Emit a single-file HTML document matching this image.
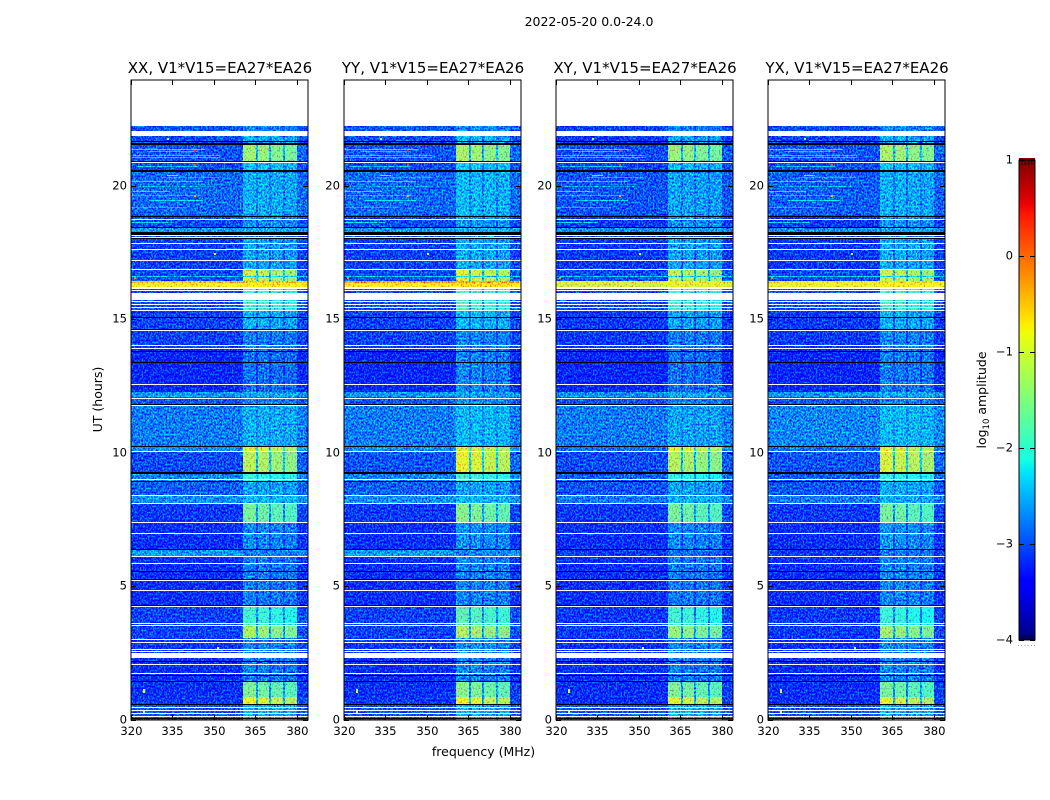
<!DOCTYPE html>
<html>
<head>
<meta charset="utf-8">
<title>2022-05-20 0.0-24.0</title>
<style>
html,body{margin:0;padding:0;background:#fff;width:1050px;height:800px;overflow:hidden}
svg text{font-family:"DejaVu Sans","Liberation Sans",sans-serif;fill:#000}
</style>
</head>
<body>
<svg id="chart" xmlns="http://www.w3.org/2000/svg" width="1050" height="800" viewBox="0 0 1050 800">
  <defs>
    <filter id="speckle" x="0" y="0" width="1" height="1" color-interpolation-filters="sRGB">
      <feTurbulence type="fractalNoise" baseFrequency="0.62 0.5" numOctaves="2" seed="7" result="n"/>
      <feColorMatrix in="n" type="matrix" values="0.3 0 0 0 0.35  0 2.0 0 0 -0.44  0 0 0.6 0 0.3  0 0 0 0 1" result="m"/>
      <feComposite in="SourceGraphic" in2="m" operator="arithmetic" k1="0" k2="1" k3="1" k4="-0.5"/>
    </filter>
  </defs>
  <text x="589" y="26" font-size="12.5" text-anchor="middle">2022-05-20 0.0-24.0</text>
  <text x="483.5" y="756" font-size="12.5" text-anchor="middle">frequency (MHz)</text>
  <text x="102" y="399.5" font-size="12.5" text-anchor="middle" transform="rotate(-90 102 399.5)">UT (hours)</text>
  <text x="986" y="400" font-size="12.5" text-anchor="middle" transform="rotate(-90 986 400)">log<tspan font-size="8.5" dy="3">10</tspan><tspan dy="-3"> amplitude</tspan></text>
  <g id="panels"></g>
  <g id="colorbar"></g>
</svg>
<script>
// ---------- categories ----------
const polarizations = ['XX', 'YY', 'XY', 'YX'];
const baselineLabel = ', V1*V15=EA27*EA26';
const xTickValues = [320, 335, 350, 365, 380];
const yTickValues = [0, 5, 10, 15, 20];
const colorbarTicks = [1, 0, -1, -2, -3, -4];

// Frequency blocks (MHz) and how strongly each follows the RFI band level
const freqEdges = [320, 360.6, 365.1, 365.8, 370, 370.6, 375.1, 375.8, 379.9, 384];
const blockWeight = [0, 1.04, 0.3, 1, 0.3, 0.94, 0.3, 0.9, 0.05];

// Time segments, hours (UT), one more edge than levels
const timeEdges = [0, 0.06, 0.58, 0.84, 1.41, 2.31, 3.05, 3.52, 4.22, 6.13, 6.39, 7.41, 8.12, 8.38, 8.94, 9.28, 10.07, 10.25, 11.79, 12.08, 12.28, 13.9, 14.64, 15.32, 16.22, 16.37, 16.44, 16.85, 18.05, 18.28, 18.43, 18.92, 20.53, 20.94, 21.54, 21.88, 22.25];

// log10 amplitude per time segment: background and RFI band
const xxBackground = [-3.1, -3.05, -3.2, -3.25, -3.25, -3.2, -3.15, -3.15, -3.25, -2.7, -3.25, -3.2, -2.75, -3.0, -2.8, -3.1, -2.75, -2.85, -3.05, -2.7, -3.3, -3.15, -3.15, -3.1, -0.8, -0.45, -3.1, -3.15, -3.1, -2.7, -3.1, -2.95, -3.1, -3.05, -3.1, -3.05];
const xxBand = [-1.8, -2.6, -0.95, -1.55, -2.85, -2.8, -1.3, -1.9, -2.85, -2.85, -2.8, -1.6, -2.55, -2.65, -1.9, -1.2, -1.0, -2.6, -2.8, -2.65, -2.9, -2.85, -2.6, -1.9, -0.7, -0.45, -1.1, -2.65, -2.8, -2.6, -2.75, -2.6, -2.5, -1.35, -2.6, -2.8];
const yyBackground = [-3.1, -3.05, -3.2, -3.25, -3.25, -3.2, -3.15, -3.15, -3.25, -2.7, -3.25, -3.2, -2.75, -3.0, -2.8, -3.05, -2.75, -2.85, -3.05, -2.7, -3.3, -3.15, -3.15, -3.1, -0.7, -0.25, -3.1, -3.15, -3.1, -2.7, -3.1, -2.95, -3.1, -3.05, -3.1, -3.05];
const yyBand = [-1.7, -2.6, -0.95, -1.5, -2.8, -2.75, -1.25, -1.75, -2.8, -2.8, -2.75, -1.5, -2.55, -2.65, -1.85, -0.95, -1.0, -2.55, -2.75, -2.65, -2.8, -2.8, -2.55, -1.8, -0.6, -0.3, -1.0, -2.6, -2.8, -2.6, -2.7, -2.55, -2.45, -1.3, -2.55, -2.8];
const xyBackground = [-3.1, -3.05, -3.25, -3.25, -3.25, -3.25, -3.2, -3.2, -3.25, -3.2, -3.25, -3.2, -2.85, -3.05, -3.0, -3.1, -2.9, -2.85, -3.05, -2.75, -3.3, -3.2, -3.2, -3.1, -1.0, -0.85, -3.1, -3.2, -3.2, -2.75, -3.2, -3.05, -3.15, -3.1, -3.2, -3.15];
const xyBand = [-1.8, -2.6, -1.0, -1.55, -2.85, -2.8, -1.4, -1.9, -2.85, -2.9, -2.8, -1.6, -2.6, -2.65, -1.95, -1.25, -1.0, -2.65, -2.8, -2.65, -2.9, -2.85, -2.65, -1.9, -0.9, -0.7, -1.15, -2.65, -2.8, -2.65, -2.75, -2.65, -2.55, -1.4, -2.65, -2.8];
const yxBackground = [-3.1, -3.05, -3.25, -3.25, -3.25, -3.25, -3.2, -3.2, -3.25, -3.2, -3.25, -3.2, -2.85, -3.05, -3.0, -3.05, -2.9, -2.8, -3.05, -2.7, -3.3, -3.2, -3.2, -3.1, -0.85, -0.75, -3.1, -3.2, -3.15, -2.75, -3.2, -3.0, -3.1, -3.05, -3.15, -3.1];
const yxBand = [-1.8, -2.6, -1.0, -1.6, -2.8, -2.8, -1.35, -1.95, -2.8, -2.85, -2.75, -1.6, -2.6, -2.6, -1.95, -1.05, -1.0, -2.55, -2.8, -2.6, -2.85, -2.8, -2.6, -1.85, -0.8, -0.6, -1.1, -2.6, -2.8, -2.65, -2.7, -2.6, -2.5, -1.3, -2.6, -2.8];

// Narrow-band streaks (hour, start MHz, stop MHz, log10 amplitude)
const streakHour = [21.39, 21.3, 21.15, 20.75, 20.2, 20.35, 19.82, 19.47, 19.2, 18.64, 16.63, 16.17, 20.42, 15.1, 21.1, 20.0, 19.65];
const streakFrom = [320, 326, 320, 322, 320, 331, 320, 327, 320, 320, 320, 320, 333, 325, 320, 323, 320];
const streakTo = [347, 344, 352, 344, 346, 352, 334, 346, 340, 335, 384, 384, 337, 345, 352, 350, 345];
const streakLevel = [-2.3, -2.5, -2.5, -2.4, -2.35, -2.6, -2.3, -2.25, -2.6, -2.3, -2.4, -0.85, -1.9, -2.4, -2.5, -2.6, -2.6];

// Isolated bright pixels (hour, MHz, log10 amplitude)
const spikeHour = [21.35, 20.82, 19.67, 1.15, 1.05, 0.3, 21.8, 17.5, 2.7, 16.6];
const spikeFreq = [342.8, 342.8, 342.8, 324.5, 324.5, 324.5, 333, 350, 351, 321];
const spikeLevel = [0.3, 0.1, -0.4, -1.0, -1.0, -0.9, -1.2, -1.1, -1.0, -0.2];

// Flagged rows: white gaps and black (zero-amplitude) rows, hours
const whiteLines = [20.90, 18.78, 18.15, 18.10, 17.86, 17.64, 17.22, 16.88, 15.70, 15.58, 15.48, 15.35, 14.59, 14.03, 13.94, 12.57, 12.04, 11.79, 10.07, 9.03, 8.42, 8.13, 7.39, 6.98, 6.13, 5.86, 5.23, 4.86, 4.26, 3.63, 3.53, 3.01, 2.91, 2.63, 2.56, 2.08, 1.73, 0.46, 0.36, 0.25, 0.13];
const whiteBandFrom = [21.88, 16.16, 16.07, 15.73, 2.31];
const whiteBandTo = [22.07, 16.22, 16.12, 16.01, 2.48];
const blackLines = [21.69, 21.60, 21.56, 20.94, 20.60, 20.55, 18.89, 18.46, 18.05, 15.09, 14.64, 13.81, 13.40, 11.83, 10.24, 8.95, 7.41, 6.40, 5.56, 5.27, 4.28, 2.19, 1.66, 1.43, 0.58, 0.07];
const blackBandFrom = [18.18, 9.22];
const blackBandTo = [18.28, 9.28];

const backgrounds = [xxBackground, yyBackground, xyBackground, yxBackground];
const bands = [xxBand, yyBand, xyBand, yxBand];

// ---------- axis functions ----------
const panelLeft = [131, 344, 556, 768];
const panelWidth = 177, panelTop = 80, panelHeight = 640;
const xScale = (p, f) => panelLeft[p] + (f - 320) * panelWidth / 64;
const yScale = h => 719.5 - h * 26.67;
const cbY = v => 640 - (v + 4) * 96;

function interp(v, xs, ys) {
  for (let i = 1; i < xs.length; i++) {
    if (v <= xs[i]) return ys[i - 1] + (ys[i] - ys[i - 1]) * (v - xs[i - 1]) / (xs[i] - xs[i - 1]);
  }
  return ys[ys.length - 1];
}
function jet(level) {
  const t = Math.max(0, Math.min(1, (level + 4) / 5));
  const r = interp(t, [0, 0.35, 0.66, 0.89, 1], [0, 0, 1, 1, 0.5]);
  const g = interp(t, [0, 0.125, 0.375, 0.64, 0.91, 1], [0, 0, 1, 1, 0, 0]);
  const b = interp(t, [0, 0.11, 0.34, 0.65, 1], [0.5, 1, 1, 0, 0]);
  return 'rgb(' + Math.round(r * 255) + ',' + Math.round(g * 255) + ',' + Math.round(b * 255) + ')';
}

const NS = 'http://www.w3.org/2000/svg';
function rect(parent, x, y, w, h, fill) {
  const r = document.createElementNS(NS, 'rect');
  r.setAttribute('x', x);
  r.setAttribute('y', y);
  r.setAttribute('width', w);
  r.setAttribute('height', h);
  r.setAttribute('fill', fill);
  r.setAttribute('shape-rendering', 'crispEdges');
  parent.appendChild(r);
  return r;
}
function line(parent, x1, y1, x2, y2) {
  const l = document.createElementNS(NS, 'line');
  l.setAttribute('x1', x1);
  l.setAttribute('y1', y1);
  l.setAttribute('x2', x2);
  l.setAttribute('y2', y2);
  l.setAttribute('stroke', '#000');
  l.setAttribute('stroke-width', '1');
  parent.appendChild(l);
  return l;
}
function label(parent, x, y, str, size, anchor) {
  const t = document.createElementNS(NS, 'text');
  t.setAttribute('x', x);
  t.setAttribute('y', y);
  t.setAttribute('font-size', size);
  t.setAttribute('text-anchor', anchor);
  t.textContent = str;
  parent.appendChild(t);
  return t;
}
function group(parent) {
  const g = document.createElementNS(NS, 'g');
  parent.appendChild(g);
  return g;
}

// ---------- panels ----------
const panelsRoot = document.getElementById('panels');
polarizations.forEach(function (pol, p) {
  const panel = group(panelsRoot);
  
  
  const left = panelLeft[p];

  const title = label(panel, left + panelWidth / 2 + 0.5, 73, pol + baselineLabel, 15, 'middle');
  
  

  const cells = group(panel);
  
  
  cells.setAttribute('filter', 'url(#speckle)');
  for (let s = 0; s < timeEdges.length - 1; s++) {
    const yTop = Math.round(yScale(timeEdges[s + 1]));
    const yBot = Math.round(yScale(timeEdges[s]));
    for (let b = 0; b < freqEdges.length - 1; b++) {
      const x0 = Math.round(xScale(p, freqEdges[b]));
      const x1 = Math.round(xScale(p, freqEdges[b + 1]));
      const level = backgrounds[p][s] + blockWeight[b] * (bands[p][s] - backgrounds[p][s]);
      const c = rect(cells, x0, yTop, x1 - x0, Math.max(1, yBot - yTop), jet(level));
      
      
    }
  }
  streakHour.forEach(function (h, i) {
    const st = rect(cells, xScale(p, streakFrom[i]), Math.round(yScale(h)), xScale(p, streakTo[i]) - xScale(p, streakFrom[i]), 1, jet(streakLevel[i]));
    
    
  });

  const flags = group(panel);
  
  
  spikeHour.forEach(function (h, i) {
    const sp = rect(flags, Math.round(xScale(p, spikeFreq[i])), Math.round(yScale(h)), 2, 2, jet(spikeLevel[i]));
    
    
  });
  blackBandFrom.forEach(function (h, i) {
    const k = rect(flags, left, Math.round(yScale(blackBandTo[i])), panelWidth, Math.round(yScale(h)) - Math.round(yScale(blackBandTo[i])), '#000');
    
    
  });
  blackLines.forEach(function (h) {
    const k = rect(flags, left, Math.round(yScale(h)), panelWidth, 1, '#000');
    
    
  });
  whiteBandFrom.forEach(function (h, i) {
    const w = rect(flags, left, Math.round(yScale(whiteBandTo[i])), panelWidth, Math.round(yScale(h)) - Math.round(yScale(whiteBandTo[i])), '#fff');
    
    
  });
  whiteLines.forEach(function (h) {
    const w = rect(flags, left, Math.round(yScale(h)), panelWidth, 1, '#fff');
    
    
  });

  const frame = document.createElementNS(NS, 'rect');
  frame.setAttribute('x', left);
  frame.setAttribute('y', panelTop);
  frame.setAttribute('width', panelWidth);
  frame.setAttribute('height', panelHeight);
  frame.setAttribute('fill', 'none');
  frame.setAttribute('stroke', '#000');
  frame.setAttribute('stroke-width', '1');
  
  
  panel.appendChild(frame);

  const xAxis = group(panel);
  
  
  xTickValues.forEach(function (v) {
    const x = Math.round(xScale(p, v)) + 0.5;
    line(xAxis, x, panelTop, x, panelTop + 5);
    line(xAxis, x, panelTop + panelHeight, x, panelTop + panelHeight - 5);
    const t = label(xAxis, x, 735, String(v), 11.6, 'middle');
    
    
  });

  const yAxis = group(panel);
  
  
  yTickValues.forEach(function (v) {
    const y = Math.round(yScale(v)) + 0.5;
    line(yAxis, left, y, left + 5, y);
    line(yAxis, left + panelWidth, y, left + panelWidth - 5, y);
    const t = label(yAxis, left - 4, y + 3, String(v), 11.6, 'end');
    
    
  });
});

// ---------- colorbar ----------
const cbRoot = document.getElementById('colorbar');
const cbLeft = 1019, cbWidth = 16;
for (let v = -4; v < 1; v += 0.0208333) {
  const y0 = Math.round(cbY(v + 0.0208333));
  const seg = rect(cbRoot, cbLeft, y0, cbWidth, 2, jet(v + 0.0104));
  
  
}
const cbFrame = document.createElementNS(NS, 'rect');
cbFrame.setAttribute('x', cbLeft);
cbFrame.setAttribute('y', 160);
cbFrame.setAttribute('width', cbWidth);
cbFrame.setAttribute('height', 480);
cbFrame.setAttribute('fill', 'none');
cbFrame.setAttribute('stroke', '#000');
cbFrame.setAttribute('stroke-width', '1');


cbRoot.appendChild(cbFrame);
colorbarTicks.forEach(function (v) {
  const y = Math.round(cbY(v)) + 0.5;
  line(cbRoot, cbLeft, y, cbLeft + 5, y);
  line(cbRoot, cbLeft + cbWidth, y, cbLeft + cbWidth - 5, y);
  const t = label(cbRoot, cbLeft - 6, y + 3, v < 0 ? '\u2212' + Math.abs(v) : String(v), 11.6, 'end');
  
  
});
for (let k = 1; k < 5; k++) {
  const x = cbLeft + k * cbWidth / 5;
  line(cbRoot, x, 160, x, 165);
  line(cbRoot, x, 640, x, 635);
}
for (let k = 0; k < 6; k++) {
  const d = rect(cbRoot, 1018 + k * 3.2, 645, 1, 1, '#999');
  
  
}
</script>
</body>
</html>
